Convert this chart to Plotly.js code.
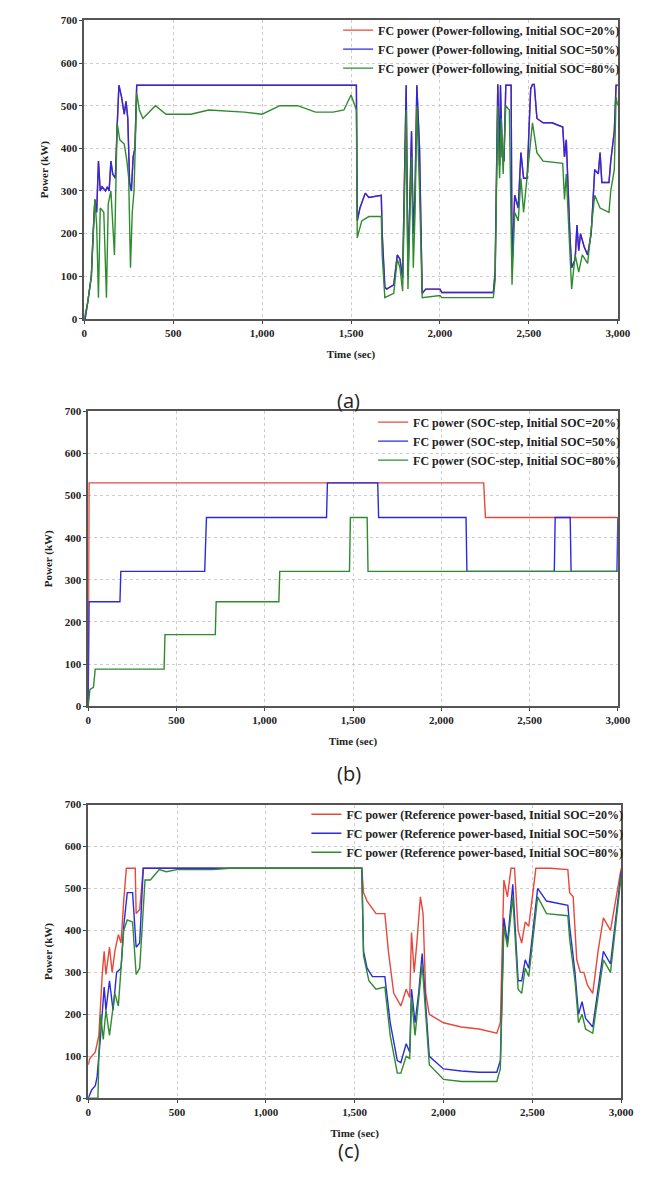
<!DOCTYPE html>
<html>
<head>
<meta charset="utf-8">
<script src="https://cdn.plot.ly/plotly-3.0.1.min.js"></script>
<style>body{margin:0;background:#fff}#chart{width:658px;height:1199px}</style>
</head>
<body>
<div id="chart"></div>
<script>
// (a) power-following
const aBlueT = [0,5,20,40,50,60,70,80,90,100,120,130,140,150,160,175,185,195,210,225,235,245,255,265,275,285,295,1530,1535,1550,1580,1600,1670,1675,1690,1700,1740,1760,1775,1790,1810,1820,1840,1850,1860,1870,1885,1900,1920,2000,2010,2300,2310,2325,2335,2340,2350,2360,2370,2400,2405,2420,2440,2455,2470,2490,2500,2510,2520,2530,2545,2580,2630,2690,2700,2710,2730,2740,2760,2770,2780,2790,2810,2830,2850,2870,2890,2900,2910,2950,2960,2980,2990,3000]
const aBlueP = [0,0,40,100,200,280,250,370,300,310,300,310,300,370,340,330,450,548,520,480,510,470,320,300,380,400,548,548,230,260,295,285,290,200,75,70,80,150,140,95,548,100,440,200,300,548,400,60,70,70,62,62,110,550,360,548,380,370,548,548,120,290,260,390,330,330,440,540,550,550,470,460,460,450,380,420,200,120,140,220,160,200,170,150,200,350,340,390,320,320,370,440,548,548]
// SOC=20% curve lies on top of SOC=50% curve in (a)
const aRedT = aBlueT
const aRedP = aBlueP
const aGreenT = [0,20,40,50,60,70,80,90,110,125,135,150,170,185,200,225,240,250,260,270,280,295,310,330,400,460,600,700,900,1000,1100,1200,1300,1400,1460,1500,1530,1535,1560,1600,1670,1675,1690,1740,1760,1775,1790,1810,1820,1840,1850,1860,1870,1885,1900,2000,2010,2300,2310,2325,2335,2345,2355,2370,2390,2405,2420,2440,2455,2470,2500,2520,2545,2580,2690,2700,2710,2730,2740,2760,2780,2800,2830,2870,2900,2950,2960,2980,2990,3000]
const aGreenP = [0,40,100,200,280,220,50,260,250,50,270,300,150,460,420,410,370,330,120,250,300,530,490,470,500,480,480,490,485,480,500,500,485,485,490,525,490,190,230,240,240,150,50,60,140,120,65,490,70,380,120,250,500,300,50,55,50,50,90,500,330,470,340,500,490,80,250,230,330,250,380,460,390,370,365,280,340,160,70,150,110,150,130,290,260,250,300,350,520,500]

// (b) SOC-step
const bRedT = [0,5,2240,2250,3000]
const bRedP = [0,530,530,448,448]
const bBlueT = [0,5,180,185,660,670,1350,1355,1640,1645,2140,2145,2640,2645,2730,2735,2995,3000]
const bBlueP = [0,248,248,320,320,448,448,530,530,448,448,320,320,448,448,320,320,448]
const bGreenT = [0,10,30,40,430,435,720,725,1080,1085,1480,1485,1580,1585,3000]
const bGreenP = [0,40,45,88,88,170,170,248,248,320,320,448,448,320,320]

// (c) reference power-based
const cRedT = [0,10,40,60,80,90,100,120,135,150,170,185,200,215,265,270,290,310,1540,1550,1570,1620,1670,1690,1720,1760,1790,1810,1820,1835,1850,1870,1885,1900,1920,2000,2100,2200,2300,2320,2340,2360,2380,2400,2420,2440,2460,2480,2520,2600,2700,2710,2730,2750,2770,2790,2810,2840,2870,2900,2940,3000]
const cRedP = [80,95,110,150,300,350,295,360,300,350,390,370,470,548,548,440,450,548,548,490,470,440,440,350,250,220,260,240,395,300,370,480,440,250,200,180,170,165,155,180,520,480,548,548,400,370,420,410,548,548,545,490,480,330,300,300,270,250,350,430,400,548]
const cBlueT = [0,20,40,50,70,90,100,120,140,160,185,200,220,250,270,290,310,780,1540,1550,1570,1600,1670,1700,1740,1760,1790,1810,1820,1840,1860,1880,1900,1920,2000,2100,2200,2300,2320,2340,2360,2390,2420,2440,2460,2480,2530,2580,2700,2710,2740,2760,2780,2800,2840,2900,2940,3000]
const cBlueP = [0,20,30,50,150,265,210,280,210,300,310,410,490,490,360,370,548,548,548,350,310,290,290,180,90,85,130,110,260,180,250,345,230,100,70,65,62,62,90,430,370,510,280,280,330,310,500,470,460,410,300,200,230,190,170,350,320,540]
const cGreenT = [0,55,60,70,85,100,120,150,170,200,220,250,270,290,320,350,400,440,500,700,800,1540,1550,1580,1620,1670,1700,1740,1760,1790,1810,1820,1840,1860,1880,1900,1920,2000,2100,2300,2320,2340,2360,2390,2420,2440,2460,2480,2530,2580,2700,2710,2740,2760,2780,2800,2840,2900,2940,3000]
const cGreenP = [0,0,100,200,140,210,150,250,220,400,425,420,295,310,520,520,545,540,545,545,548,548,340,280,260,265,150,60,60,100,95,240,150,230,320,200,80,45,40,40,70,410,360,480,260,250,310,290,480,440,435,380,280,180,200,165,155,330,300,530]

const RED = '#e8483a', BLUE = '#2a2ae0', GREEN = '#2e8b2e'
const socLabels = ['20%', '50%', '80%']

function tr(x, y, color, name, ax, leg) {
    return {x: x, y: y, type: 'scatter', mode: 'lines', name: name,
        line: {color: color, width: 1.4}, xaxis: 'x' + ax, yaxis: 'y' + ax, legend: leg}
}

const data = [
    tr(aRedT, aRedP, RED, 'FC power (Power-following, Initial SOC=' + socLabels[0] + ')', '', 'legend'),
    tr(aBlueT, aBlueP, BLUE, 'FC power (Power-following, Initial SOC=' + socLabels[1] + ')', '', 'legend'),
    tr(aGreenT, aGreenP, GREEN, 'FC power (Power-following, Initial SOC=' + socLabels[2] + ')', '', 'legend'),
    tr(bRedT, bRedP, RED, 'FC power (SOC-step, Initial SOC=' + socLabels[0] + ')', '2', 'legend2'),
    tr(bBlueT, bBlueP, BLUE, 'FC power (SOC-step, Initial SOC=' + socLabels[1] + ')', '2', 'legend2'),
    tr(bGreenT, bGreenP, GREEN, 'FC power (SOC-step, Initial SOC=' + socLabels[2] + ')', '2', 'legend2'),
    tr(cRedT, cRedP, RED, 'FC power (Reference power-based, Initial SOC=' + socLabels[0] + ')', '3', 'legend3'),
    tr(cBlueT, cBlueP, BLUE, 'FC power (Reference power-based, Initial SOC=' + socLabels[1] + ')', '3', 'legend3'),
    tr(cGreenT, cGreenP, GREEN, 'FC power (Reference power-based, Initial SOC=' + socLabels[2] + ')', '3', 'legend3')
]

const serif = {family: 'Liberation Serif, serif', size: 11, color: '#222', weight: 'bold'}

function xax(dom, anchor) {
    return {domain: dom, anchor: anchor, range: [0, 3000], dtick: 500, tickformat: ',',
        showline: true, mirror: true, linecolor: '#555', linewidth: 1.5, ticks: 'outside', ticklen: 3,
        showgrid: true, gridcolor: '#ccc', griddash: 'dot', zeroline: false, tickfont: serif,
        title: {text: 'Time (sec)', font: serif, standoff: 12}}
}
function yax(dom, anchor) {
    return {domain: dom, anchor: anchor, range: [0, 700], dtick: 100,
        showline: true, mirror: true, linecolor: '#555', linewidth: 1.5, ticks: 'outside', ticklen: 3,
        showgrid: true, gridcolor: '#ccc', griddash: 'dot', zeroline: false, tickfont: serif,
        title: {text: 'Power (kW)', font: serif, standoff: 10}}
}
function leg(x, y) {
    return {x: x, y: y, xanchor: 'right', yanchor: 'top', bgcolor: 'rgba(0,0,0,0)',
        font: {family: 'Liberation Serif, serif', size: 12, color: '#222', weight: 'bold'},
        tracegroupgap: 0, itemwidth: 30}
}

const layout = {
    width: 658, height: 1199, showlegend: true,
    margin: {l: 0, r: 0, t: 0, b: 0},
    paper_bgcolor: '#fff', plot_bgcolor: '#fff',
    xaxis: xax([0.128, 0.939], 'y'), yaxis: yax([0.734, 0.983], 'x'),
    xaxis2: xax([0.134, 0.939], 'y2'), yaxis2: yax([0.411, 0.657], 'x2'),
    xaxis3: xax([0.134, 0.944], 'y3'), yaxis3: yax([0.084, 0.329], 'x3'),
    legend: leg(0.95, 0.987), legend2: leg(0.95, 0.66), legend3: leg(0.955, 0.333),
    annotations: [
        {text: '(a)', x: 0.53, y: 1 - 385 / 1199},
        {text: '(b)', x: 0.53, y: 1 - 773 / 1199},
        {text: '(c)', x: 0.53, y: 1 - 1166 / 1199}
    ].map(a => Object.assign(a, {xref: 'paper', yref: 'paper', showarrow: false,
        font: {family: 'Open Sans, sans-serif', size: 20, color: '#222'}}))
}

Plotly.newPlot('chart', data, layout, {displayModeBar: false})
</script>
</body>
</html>
